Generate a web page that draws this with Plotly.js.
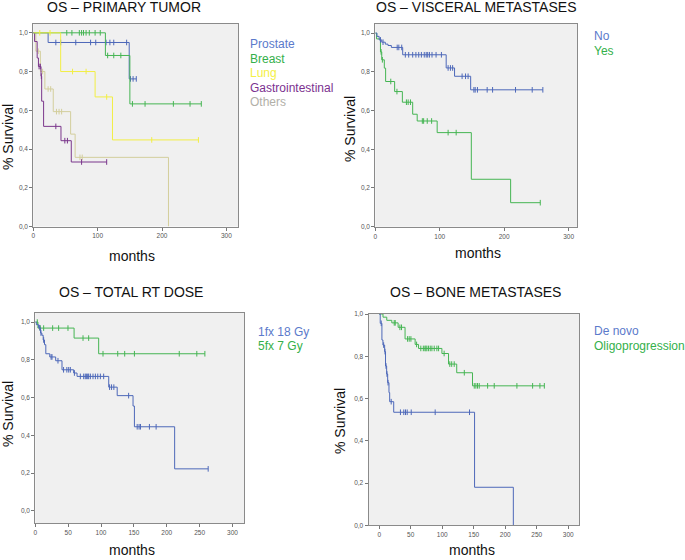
<!DOCTYPE html>
<html>
<head>
<meta charset="utf-8">
<script src="https://cdn.plot.ly/plotly-3.0.1.min.js"></script>
<style>html,body{margin:0;padding:0;background:#fff;}#chart{width:685px;height:560px;}</style>
</head>
<body>
<div id="chart"></div>
<script>
// ---------- DATA (Kaplan-Meier step points & censor times) ----------
// Panel 1: OS – PRIMARY TUMOR
const prostateT = [0, 23, 149, 160];
const prostateS = [1, 0.95, 0.762, 0.762];
const prostateC = [35, 42.5, 66, 89, 97, 113, 119, 125, 145, 151, 155, 160];

const breastT = [0, 112, 150, 261];
const breastS = [1, 0.883, 0.633, 0.633];
const breastC = [52, 60, 71.5, 75, 78, 82, 87, 96, 104, 115.5, 125, 136, 154, 173.6, 217.6, 243.5, 261];

const lungT = [0, 42.5, 96, 123, 256.5];
const lungS = [1, 0.8, 0.669, 0.447, 0.447];
const lungC = [10, 26, 61, 82, 114, 184, 256.5];

const giT = [0, 2, 6, 8, 12, 13, 16, 43, 59, 114];
const giS = [1, 0.955, 0.87, 0.826, 0.776, 0.647, 0.517, 0.443, 0.333, 0.333];
const giC = [9, 11, 12.5, 35, 49, 53, 75, 114];

const othersT = [0, 4, 11, 18, 31, 58, 65, 210];
const othersS = [1, 0.905, 0.8, 0.71, 0.593, 0.477, 0.357, 0];
const othersC = [7.8, 14.5, 23, 27, 36, 40, 44, 72.5, 76];

// Panel 2: OS – VISCERAL METASTASES
const noT = [0, 2.6, 6, 10, 15.5, 19.7, 24.9, 42.5, 110, 123, 148, 260];
const noS = [1, 0.983, 0.965, 0.953, 0.943, 0.936, 0.926, 0.888, 0.82, 0.777, 0.707, 0.707];
const noC = [8, 12, 34, 36.5, 41, 46.6, 51.8, 58, 63, 67.4, 71.5, 76, 79, 81.3, 84, 88, 94.3, 102.6, 113, 116.6, 120, 134.7, 140, 144, 153, 155, 158.5, 173.6, 182, 217.6, 243.5, 260];

const yesT = [0, 2, 8, 10, 14, 16, 30, 42, 58, 65, 96, 149, 210, 256];
const yesS = [1, 0.97, 0.903, 0.862, 0.819, 0.75, 0.698, 0.643, 0.581, 0.546, 0.486, 0.245, 0.124, 0.124];
const yesC = [9, 11, 24, 33.6, 48.3, 51, 54.6, 73, 75, 80.6, 87.4, 113, 125.5, 256];

// Panel 3: OS – TOTAL RT DOSE
const fx1T = [0, 1.5, 5, 8, 10, 12, 14, 16, 22, 31, 40.6, 58.4, 63.5, 111.7, 124.6, 148.7, 150.8, 212, 263];
const fx1S = [1, 0.986, 0.97, 0.942, 0.93, 0.905, 0.88, 0.832, 0.815, 0.795, 0.747, 0.73, 0.712, 0.655, 0.61, 0.555, 0.445, 0.222, 0.222];
const fx1C = [6.6, 8.6, 12.7, 24, 25.4, 34.5, 43, 48, 50.8, 53.3, 59.5, 68.5, 73.6, 76, 77.7, 79.7, 81.2, 83.8, 87.8, 91.4, 95, 99, 104, 113, 116, 119.5, 142, 155, 157.9, 160, 173.6, 183.8, 263];

const fx5T = [0, 4, 59, 96.4, 258];
const fx5S = [1, 0.968, 0.915, 0.832, 0.832];
const fx5C = [3, 7.6, 12.7, 26.4, 35.5, 49.7, 72.6, 81.2, 103, 125.4, 136, 150.8, 219, 245.7, 258];

// Panel 4: OS – BONE METASTASES
const denovoT = [0, 1.6, 4.3, 5.9, 8.6, 10, 11.8, 13.4, 15.5, 16.6, 23, 151.3, 212.8];
const denovoS = [1, 0.956, 0.877, 0.853, 0.822, 0.754, 0.716, 0.675, 0.628, 0.585, 0.535, 0.18, 0];
const denovoC = [3.2, 7, 9.2, 10.8, 12.3, 14, 19, 33.7, 39, 41.7, 44.4, 50.8, 88.8, 143.3];

const oligoT = [0, 6, 12, 20, 30, 41, 57, 62.4, 99.5, 110, 123, 148, 262];
const oligoS = [1, 0.985, 0.97, 0.958, 0.937, 0.882, 0.856, 0.837, 0.813, 0.763, 0.722, 0.66, 0.66];
const oligoC = [23.8, 25.4, 32.8, 35.4, 45, 47.6, 50.3, 59.3, 66, 70, 72.5, 74, 75.7, 78.3, 81, 83.6, 87.3, 91.5, 94.2, 103, 112, 115, 119, 135, 150.8, 153.4, 156, 158.7, 172, 182.5, 218.5, 243.4, 255, 262];

// Titles / labels
const panelTitles = ["OS \u2013 PRIMARY TUMOR", "OS \u2013 VISCERAL METASTASES", "OS \u2013 TOTAL RT DOSE", "OS \u2013 BONE METASTASES"];
const yTitle = "% Survival";
const xTitle = "months";
const legend1 = ["Prostate", "Breast", "Lung", "Gastrointestinal", "Others"];
const legend2 = ["No", "Yes"];
const legend3 = ["1fx 18 Gy", "5fx 7 Gy"];
const legend4 = ["De novo", "Oligoprogression"];

// ---------- STYLE ----------
const W = 685, H = 560;
const BLUE = "#4d68b9", GREEN = "#45b553", YELLOW = "#f2ee44", PURPLE = "#7b378c", BEIGE = "#d3ce9c";
const BLUE_T = "#5b7acb", GREEN_T = "#34b04a", YELLOW_T = "#f4f046", PURPLE_T = "#7c3190", GRAY_T = "#b2b0a8";
const FONT = "Liberation Sans, Arial, sans-serif";

function survAt(T, S, t) {
  let v = S[0];
  for (let i = 0; i < T.length; i++) { if (T[i] <= t) v = S[i]; }
  return v;
}

const traces = [];
function km(T, S, C, color, ax) {
  traces.push({x: T, y: S, type: "scatter", mode: "lines", line: {shape: "hv", color: color, width: 1},
               xaxis: "x" + ax, yaxis: "y" + ax, hoverinfo: "skip"});
  traces.push({x: C, y: C.map(t => survAt(T, S, t)), type: "scatter", mode: "markers",
               marker: {symbol: "line-ns-open", size: 4, color: color, line: {color: color, width: 1}},
               xaxis: "x" + ax, yaxis: "y" + ax, hoverinfo: "skip"});
}
km(othersT, othersS, othersC, BEIGE, "");
km(giT, giS, giC, PURPLE, "");
km(prostateT, prostateS, prostateC, BLUE, "");
km(breastT, breastS, breastC, GREEN, "");
km(lungT, lungS, lungC, YELLOW, "");
km(yesT, yesS, yesC, GREEN, "2");
km(noT, noS, noC, BLUE, "2");
km(fx5T, fx5S, fx5C, GREEN, "3");
km(fx1T, fx1S, fx1C, BLUE, "3");
km(oligoT, oligoS, oligoC, GREEN, "4");
km(denovoT, denovoS, denovoC, BLUE, "4");

const px = v => v / W, py = v => 1 - v / H;

function xa(l, r, range, dtick) {
  return {domain: [px(l), px(r)], range: range, tick0: 0, dtick: dtick, ticks: "outside", ticklen: 3,
          tickcolor: "#777", tickfont: {size: 6.5, color: "#555", family: FONT}, showgrid: false, zeroline: false,
          showline: true, mirror: true, linecolor: "#8a8a8a", linewidth: 1, fixedrange: true};
}
function ya(t, b, range) {
  return {domain: [py(b), py(t)], range: range, tickvals: [0, 0.2, 0.4, 0.6, 0.8, 1.0], tickformat: ".1f",
          ticks: "outside", ticklen: 3, tickcolor: "#777", tickfont: {size: 6.5, color: "#555", family: FONT},
          showgrid: false, zeroline: false, showline: true, mirror: true, linecolor: "#8a8a8a", linewidth: 1, fixedrange: true};
}

const ann = [];
function text(t, x, y, size, color, opts) {
  ann.push(Object.assign({text: t, x: px(x), y: py(y), xref: "paper", yref: "paper", showarrow: false,
    xanchor: "center", yanchor: "middle", font: {family: FONT, size: size, color: color}}, opts || {}));
}
// panel titles
text(panelTitles[0], 124, 7.5, 14, "#111");
text(panelTitles[1], 476, 7.5, 14, "#111");
text(panelTitles[2], 131, 292, 14, "#111");
text(panelTitles[3], 475, 292, 14, "#111");
// y titles
text(yTitle, 8, 137, 14, "#111", {textangle: -90});
text(yTitle, 350, 129, 14, "#111", {textangle: -90});
text(yTitle, 8, 414, 14, "#111", {textangle: -90});
text(yTitle, 340, 421, 14, "#111", {textangle: -90});
// x titles
text(xTitle, 132, 256, 14, "#111");
text(xTitle, 478, 253, 14, "#111");
text(xTitle, 132, 550, 14, "#111");
text(xTitle, 472, 550, 14, "#111");
// legends
const lc1 = [BLUE_T, GREEN_T, YELLOW_T, PURPLE_T, GRAY_T];
legend1.forEach((s, i) => text(s, 248, 44 + i * 14.6, 12, lc1[i], {xanchor: "left"}));
legend2.forEach((s, i) => text(s, 592, 36 + i * 15, 12, [BLUE_T, GREEN_T][i], {xanchor: "left"}));
legend3.forEach((s, i) => text(s, 256, 332 + i * 14, 12, [BLUE_T, GREEN_T][i], {xanchor: "left"}));
legend4.forEach((s, i) => text(s, 592, 331 + i * 14.7, 12, [BLUE_T, GREEN_T][i], {xanchor: "left"}));

const layout = {
  width: W, height: H, margin: {l: 0, r: 0, t: 0, b: 0, pad: 0},
  paper_bgcolor: "#ffffff", plot_bgcolor: "#f0f0f0", showlegend: false, separators: ",.",
  font: {family: FONT},
  xaxis: Object.assign(xa(33.3, 238, [0, 318], 100), {anchor: "y"}),
  yaxis: Object.assign(ya(23.7, 226.5, [0, 1.047]), {anchor: "x"}),
  xaxis2: Object.assign(xa(375.3, 577, [0, 313], 100), {anchor: "y2"}),
  yaxis2: Object.assign(ya(24, 226.7, [0, 1.047]), {anchor: "x2"}),
  xaxis3: Object.assign(xa(35.3, 244, [0, 317.5], 50), {anchor: "y3"}),
  yaxis3: Object.assign(ya(313, 523, [-0.065, 1.048]), {anchor: "x3"}),
  xaxis4: Object.assign(xa(368.5, 579, [-17, 317], 50), {anchor: "y4"}),
  yaxis4: Object.assign(ya(314, 525.3, [0, 1.0]), {anchor: "x4"}),
  annotations: ann
};

Plotly.newPlot("chart", traces, layout, {staticPlot: true, displayModeBar: false});
</script>
</body>
</html>
